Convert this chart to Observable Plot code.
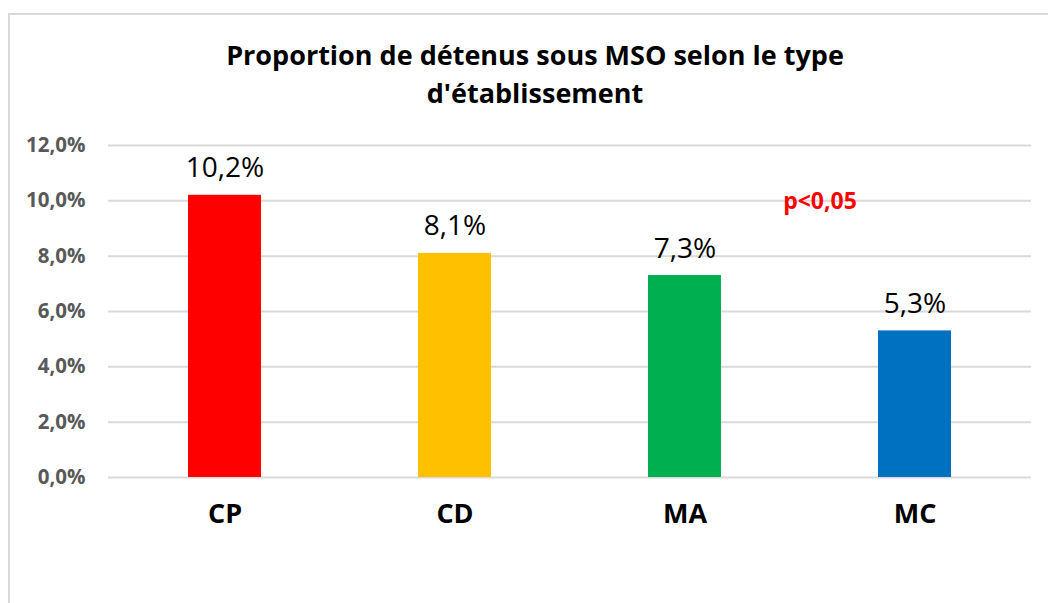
<!DOCTYPE html>
<html>
<head>
<meta charset="utf-8">
<script src="https://cdn.jsdelivr.net/npm/d3@7"></script>
<script src="https://cdn.jsdelivr.net/npm/@observablehq/plot@0.6"></script>
<style>
  html, body { margin: 0; padding: 0; background: #fff; overflow: hidden; width: 1048px; height: 603px; }
  #frame { position: absolute; left: 8px; top: 13px; width: 1100px; height: 700px; border: 2px solid #d9d9d9; box-sizing: border-box; }
  #title { position: absolute; left: 0; top: 36px; width: 1070px; text-align: center; font-family: "Open Sans", sans-serif; font-weight: bold; font-size: 27px; line-height: 38px; color: #000; }
  #chart { position: absolute; left: 0; top: 120px; }
</style>
</head>
<body>
<div id="frame"></div>
<div id="title">Proportion de détenus sous MSO selon le type<br>d'établissement</div>
<div id="chart"></div>
<script>
const categories = ["CP", "CD", "MA", "MC"];
const values = [10.2, 8.1, 7.3, 5.3];
const barColors = ["#FF0000", "#FFC000", "#00B050", "#0070C0"];
const yTicks = [0, 2, 4, 6, 8, 10, 12];
const annotationText = ["p<0,05"];
const annotationAt = [{x: "MC", y: 10}];

const fmt = d => d.toFixed(1).replace(".", ",") + "%";
const data = categories.map((c, i) => ({cat: c, value: values[i], color: barColors[i]}));
const notes = annotationAt.map((a, i) => ({...a, text: annotationText[i]}));

const chart = Plot.plot({
  width: 1048,
  height: 483,
  marginLeft: 108,
  marginRight: 17,
  marginTop: 25,
  marginBottom: 126,
  style: {fontFamily: "'Open Sans', sans-serif", background: "transparent", overflow: "visible"},
  x: {domain: categories, paddingInner: 0.684, paddingOuter: 0.342, axis: null},
  y: {domain: [0, 12], axis: null},
  marks: [
    Plot.ruleY(yTicks, {stroke: "#d9d9d9", strokeWidth: 2}),
    Plot.axisY({ticks: yTicks, tickFormat: fmt, tickSize: 0, tickPadding: 23, fontSize: 20.5, fontWeight: "bold", fill: "#595959", label: null}),
    Plot.barY(data, {x: "cat", y: "value", fill: "color"}),
    Plot.text(data, {x: "cat", y: "value", text: d => fmt(d.value), lineAnchor: "bottom", dy: -18, fontSize: 28, fill: "#000"}),
    Plot.text(data, {x: "cat", y: 0, text: "cat", lineAnchor: "top", dy: 26, fontSize: 27, fontWeight: "bold", fill: "#000"}),
    Plot.text(notes, {x: "x", y: "y", text: "text", dx: -95, dy: 1, fontSize: 23, fontWeight: "bold", fill: "#FF0000"})
  ]
});
document.getElementById("chart").appendChild(chart);
</script>
</body>
</html>
